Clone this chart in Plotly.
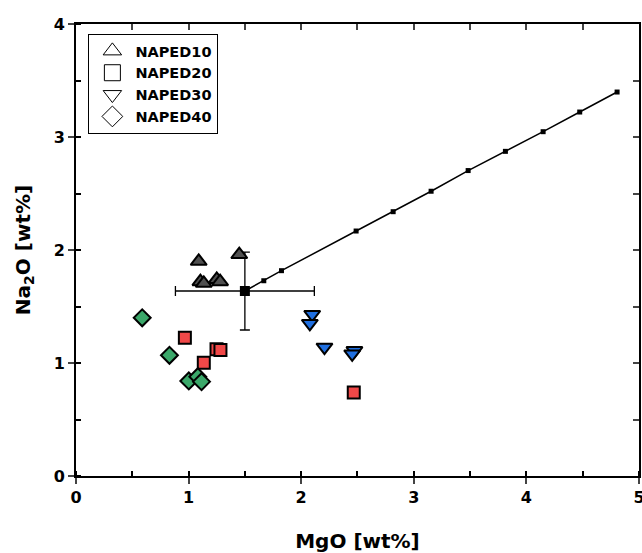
import plotly.graph_objects as go

# NAPED10 (dark grey up-triangles)
n10_mgo = [1.09, 1.45, 1.105, 1.135, 1.25, 1.28]
n10_na2o = [1.90, 1.96, 1.72, 1.705, 1.74, 1.72]
# NAPED20 (red squares)
n20_mgo = [0.967, 1.248, 1.283, 1.135, 2.467]
n20_na2o = [1.224, 1.121, 1.115, 1.003, 0.74]
# NAPED30 (blue down-triangles)
n30_mgo = [2.098, 2.077, 2.207, 2.473, 2.453]
n30_na2o = [1.43, 1.35, 1.14, 1.11, 1.08]
# NAPED40 (green diamonds)
n40_mgo = [0.588, 0.83, 1.002, 1.082, 1.115]
n40_na2o = [1.40, 1.068, 0.841, 0.879, 0.835]
# mean with error bars
mean_mgo = [1.50]
mean_na2o = [1.637]
mean_err_mgo = [0.617]
mean_err_na2o = [0.345]
# trend line
line_mgo = [1.50, 1.668, 1.825, 2.488, 2.817, 3.154, 3.483, 3.814, 4.149, 4.474, 4.806]
line_na2o = [1.637, 1.728, 1.817, 2.168, 2.339, 2.52, 2.703, 2.873, 3.047, 3.221, 3.398]

x_ticks = [0, 1, 2, 3, 4, 5]
y_ticks = [0, 1, 2, 3, 4]

legend_names = ["NAPED10", "NAPED20", "NAPED30", "NAPED40"]
legend_symbols = ["triangle-up-open", "square-open", "triangle-down-open", "diamond-open"]

FONT = "DejaVu Sans"
fig = go.Figure()

fig.add_trace(go.Scatter(x=line_mgo, y=line_na2o, mode="lines+markers",
                         line=dict(color="black", width=1.5),
                         marker=dict(symbol="square", size=5, color="black"),
                         showlegend=False))
fig.add_trace(go.Scatter(x=mean_mgo, y=mean_na2o, mode="markers",
                         marker=dict(symbol="square", size=10, color="black"),
                         error_x=dict(type="data", array=mean_err_mgo, color="black", thickness=1.3, width=5),
                         error_y=dict(type="data", array=mean_err_na2o, color="black", thickness=1.3, width=5),
                         showlegend=False))

mk_line = dict(color="black", width=2)
fig.add_trace(go.Scatter(x=n10_mgo, y=n10_na2o, mode="markers", showlegend=False,
                         marker=dict(symbol="triangle-up", size=14, color="#505050", line=mk_line)))
fig.add_trace(go.Scatter(x=n20_mgo, y=n20_na2o, mode="markers", showlegend=False,
                         marker=dict(symbol="square", size=12, color="#F04848", line=mk_line)))
fig.add_trace(go.Scatter(x=n30_mgo, y=n30_na2o, mode="markers", showlegend=False,
                         marker=dict(symbol="triangle-down", size=14, color="#1F6FE0", line=mk_line)))
fig.add_trace(go.Scatter(x=n40_mgo, y=n40_na2o, mode="markers", showlegend=False,
                         marker=dict(symbol="diamond", size=13, color="#3BA86A", line=mk_line)))

for name, sym in zip(legend_names, legend_symbols):
    fig.add_trace(go.Scatter(x=[None], y=[None], mode="markers", name=name,
                             marker=dict(symbol=sym, size=18, color="black", line=dict(width=1))))

# top/right axes (ticks inside)
fig.add_trace(go.Scatter(x=[None], y=[None], xaxis="x2", yaxis="y2", showlegend=False, hoverinfo="skip"))

fig.update_layout(
    width=642, height=553, autosize=False,
    margin=dict(l=76, r=3, t=24, b=77, autoexpand=False),
    paper_bgcolor="white", plot_bgcolor="white",
    font=dict(family=FONT, color="black"),
    showlegend=True,
    legend=dict(x=0.022, y=0.978, xanchor="left", yanchor="top",
                bordercolor="black", borderwidth=1, bgcolor="white",
                font=dict(size=14.5, family=FONT, weight="bold"),
                itemwidth=36, tracegroupgap=0),
    xaxis=dict(range=[0, 5.0005], tickmode="array", tickvals=x_ticks, ticktext=[str(v) for v in x_ticks],
               ticks="outside", ticklen=6, tickwidth=1.5, ticklabeloverflow="allow",
               showline=True, linewidth=2, linecolor="black", mirror=True,
               showgrid=False, zeroline=False, automargin=False,
               tickfont=dict(size=16, family=FONT, weight="bold"),
               minor=dict(dtick=0.5, tick0=0, ticks="inside", ticklen=5, tickwidth=1.5, tickcolor="black", showgrid=False),
               title=dict(text="MgO [wt%]", font=dict(size=20, family=FONT, weight="bold"), standoff=28)),
    yaxis=dict(range=[0, 4], tickmode="array", tickvals=y_ticks, ticktext=[str(v) for v in y_ticks],
               ticks="outside", ticklen=6, tickwidth=1.5, ticklabeloverflow="allow",
               showline=True, linewidth=2, linecolor="black", mirror=True,
               showgrid=False, zeroline=False, automargin=False,
               tickfont=dict(size=16, family=FONT, weight="bold"),
               minor=dict(dtick=0.5, tick0=0, ticks="inside", ticklen=5, tickwidth=1.5, tickcolor="black", showgrid=False),
               title=dict(text="Na<sub>2</sub>O [wt%]", font=dict(size=20, family=FONT, weight="bold"), standoff=18)),
    xaxis2=dict(range=[0, 5.0005], overlaying="x", side="top", dtick=0.5, ticks="inside", ticklen=6,
                tickwidth=1.5, showticklabels=False, showgrid=False, zeroline=False, showline=False,
                automargin=False),
    yaxis2=dict(range=[0, 4], overlaying="y", side="right", dtick=0.5, ticks="inside", ticklen=6,
                tickwidth=1.5, showticklabels=False, showgrid=False, zeroline=False, showline=False,
                automargin=False),
)

fig.write_html("out.html", config={"responsive": False, "displayModeBar": False},
               post_script="document.body.style.margin='0';document.body.style.padding='0';")
